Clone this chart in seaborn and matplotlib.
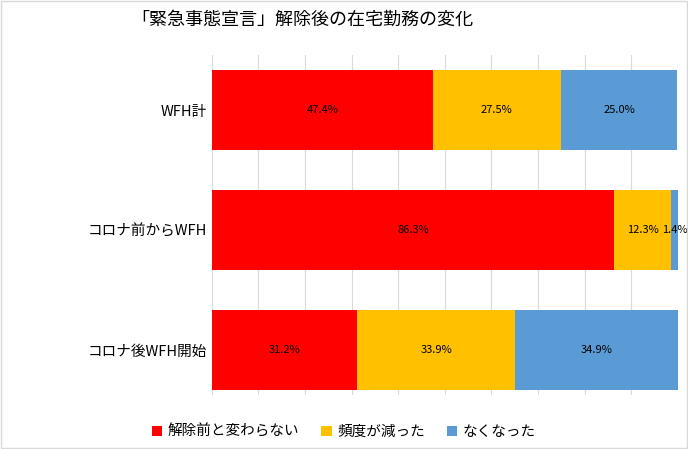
import matplotlib
matplotlib.use("Agg")
import matplotlib.pyplot as plt
import seaborn as sns
import pandas as pd
import numpy as np

plt.rcParams["font.family"] = ["Noto Sans CJK JP"]

categories = ["WFH計", "コロナ前からWFH", "コロナ後WFH開始"]
series = ["解除前と変わらない", "頻度が減った", "なくなった"]
v_same = [47.4, 86.3, 31.2]
v_less = [27.5, 12.3, 33.9]
v_none = [25.0, 1.4, 34.9]
colors = ["#FF0000", "#FFC000", "#5B9BD5"]

fig = plt.figure(figsize=(6.88, 4.49), dpi=100)
ax = fig.add_axes([0.308, 0.12, 0.677, 0.758])
vals = [v_same, v_less, v_none]
left = np.zeros(3)
for name, v, c in zip(series, vals, colors):
    df = pd.DataFrame({"cat": categories, "val": v})
    sns.barplot(data=df, y="cat", x="val", color=c, left=left, width=0.67,
                ax=ax, label=name, orient="h", saturation=1)
    for i, (l, x) in enumerate(zip(left, v)):
        ax.text(l + x / 2, i, f"{x:.1f}%", ha="center", va="center", fontsize=8, color="black")
    left = left + np.array(v)

ax.set_xlim(0, 100)
ax.set_ylim(2.375, -0.46)
ax.set_xticks(np.arange(0, 101, 10))
ax.set_xticklabels([])
ax.tick_params(axis="x", length=0)
ax.tick_params(axis="y", length=0, labelsize=10.5)
ax.grid(axis="x", color="#D9D9D9", linewidth=0.8)
ax.set_axisbelow(True)
for s in ax.spines.values():
    s.set_visible(False)
ax.set_xlabel("")
ax.set_ylabel("")
ax.legend(loc="center", bbox_to_anchor=(0.5, 0.038), bbox_transform=fig.transFigure,
          ncol=3, frameon=False, fontsize=10.5, handlelength=0.7, handleheight=0.7,
          columnspacing=1.5, handletextpad=0.4)
fig.text(0.44, 0.955, "「緊急事態宣言」解除後の在宅勤務の変化", ha="center", va="center", fontsize=13)
fig.patches.append(plt.Rectangle((0.002, 0.002), 0.996, 0.996, transform=fig.transFigure,
                                 fill=False, edgecolor="#D9D9D9", linewidth=1))
fig.savefig("out.png", dpi=100)
